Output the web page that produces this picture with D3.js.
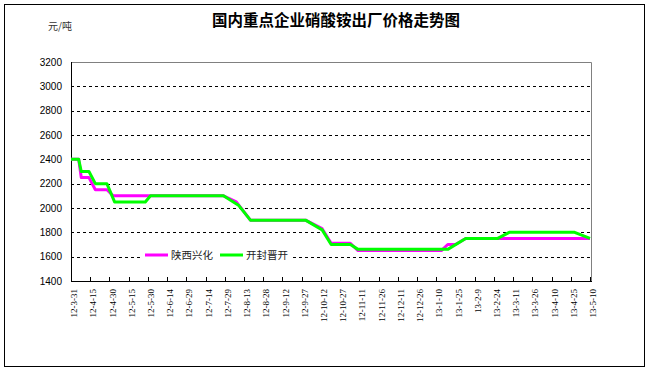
<!DOCTYPE html>
<html><head><meta charset="utf-8">
<script src="https://cdn.jsdelivr.net/npm/d3@7"></script>
<style>html,body{margin:0;padding:0;background:#fff;}svg{display:block;}</style>
</head><body>
<script>
const title = "国内重点企业硝酸铵出厂价格走势图";
const unitLabel = "元/吨";
const tickLabels = ["12-3-31","12-4-15","12-4-30","12-5-15","12-5-30","12-6-14","12-6-29","12-7-14","12-7-29","12-8-13","12-8-28","12-9-12","12-9-27","12-10-12","12-10-27","12-11-11","12-11-26","12-12-11","12-12-26","13-1-10","13-1-25","13-2-9","13-2-24","13-3-11","13-3-26","13-4-10","13-4-25","13-5-10"];
const yTicks = [1400,1600,1800,2000,2200,2400,2600,2800,3000,3200];
const seriesNames = ["陕西兴化","开封晋开"];
// breakpoints (date, price)
const shaanxiDates = ["2012-03-31","2012-04-06","2012-04-08","2012-04-14","2012-04-19","2012-04-28","2012-05-03","2012-07-28","2012-08-07","2012-08-18","2012-09-30","2012-10-13","2012-10-20","2012-11-04","2012-11-10","2013-01-14","2013-01-19","2013-01-25","2013-02-02","2013-05-10"];
const shaanxiValues = [2400,2400,2250,2250,2150,2150,2100,2100,2050,1900,1900,1830,1710,1710,1650,1650,1700,1700,1750,1750];
const kaifengDates = ["2012-03-31","2012-04-06","2012-04-08","2012-04-14","2012-04-19","2012-04-28","2012-05-04","2012-05-28","2012-06-01","2012-07-28","2012-08-09","2012-08-18","2012-09-30","2012-10-13","2012-10-20","2012-11-04","2012-11-10","2013-01-19","2013-02-02","2013-02-27","2013-03-08","2013-04-28","2013-05-10"];
const kaifengValues = [2400,2400,2300,2300,2200,2200,2050,2050,2100,2100,2020,1900,1900,1820,1700,1700,1660,1660,1750,1750,1800,1800,1750];
const colors = ["#ff00ff","#00ff00"];

const W = 650, H = 372;
const svg = d3.select("body").append("svg").attr("width", W).attr("height", H);
svg.append("rect").attr("x",4.5).attr("y",4.5).attr("width",640).attr("height",362)
  .attr("fill","#fff").attr("stroke","#000").attr("stroke-width",1);

const parseTick = d3.utcParse("%y-%m-%d");
const parseDate = d3.utcParse("%Y-%m-%d");
const tickDates = tickLabels.map(parseTick);
const pLeft = 71, pRight = 590, pTop = 62, pBottom = 281;
const x = d3.scaleUtc().domain([tickDates[0], tickDates[tickDates.length-1]]).range([pLeft, pRight]);
const y = d3.scaleLinear().domain([1400,3200]).range([pBottom, pTop]);

// gridlines
svg.append("g").selectAll("line").data(yTicks.filter(v => v > 1400 && v < 3200)).join("line")
  .attr("x1", pLeft).attr("x2", pRight+1).attr("y1", d => Math.round(y(d))+0.5).attr("y2", d => Math.round(y(d))+0.5)
  .attr("stroke","#000").attr("stroke-width",1).attr("stroke-dasharray","3,3");
// plot border top/right
svg.append("path").attr("d", `M${pLeft},${pTop+0.5}H${pRight+1.5}V${pBottom}`)
  .attr("fill","none").attr("stroke","#808080").attr("stroke-width",1);

// y labels
svg.append("g").selectAll("text").data(yTicks).join("text")
  .attr("x", 62).attr("y", d => y(d)).attr("dy","0.35em").attr("text-anchor","end")
  .attr("font-family","Liberation Sans, Arial, sans-serif").attr("font-size", 10).attr("fill","#000")
  .text(d => d);

// axes
svg.append("line").attr("x1", pLeft+0.5).attr("x2", pLeft+0.5).attr("y1", pTop).attr("y2", pBottom+1).attr("stroke","#000");
svg.append("line").attr("x1", pLeft).attr("x2", pRight+2).attr("y1", pBottom+0.5).attr("y2", pBottom+0.5).attr("stroke","#000");
svg.append("g").selectAll("line").data(tickDates).join("line")
  .attr("x1", d => Math.round(x(d))+0.5).attr("x2", d => Math.round(x(d))+0.5)
  .attr("y1", pBottom-4).attr("y2", pBottom).attr("stroke","#000");
svg.append("g").selectAll("text").data(tickLabels).join("text")
  .attr("transform", (d,i) => `translate(${x(tickDates[i])+3},289) rotate(-90)`)
  .attr("dy","0.35em").attr("text-anchor","end")
  .attr("font-family","Liberation Serif, Times New Roman, serif").attr("font-size", 9).attr("fill","#000")
  .text(d => d);

// lines
const line = d3.line().x(d => x(d[0])).y(d => y(d[1]));
const series = [
  shaanxiDates.map((d,i) => [parseDate(d), shaanxiValues[i]]),
  kaifengDates.map((d,i) => [parseDate(d), kaifengValues[i]])
];
series.forEach((s,i) => {
  svg.append("path").datum(s).attr("d", line).attr("fill","none")
    .attr("stroke", colors[i]).attr("stroke-width",3).attr("stroke-linejoin","round");
});

// legend
const lg = svg.append("g");
lg.append("rect").attr("x",143).attr("y",248).attr("width",148).attr("height",15).attr("fill","#fff");
const legendX = [145, 220];
seriesNames.forEach((n,i) => {
  lg.append("line").attr("x1", legendX[i]).attr("x2", legendX[i]+23).attr("y1",255).attr("y2",255)
    .attr("stroke", colors[i]).attr("stroke-width",3);
  lg.append("text").attr("x", legendX[i]+26).attr("y",255.5).attr("dy","0.35em")
    .attr("font-family","Noto Sans CJK SC, sans-serif").attr("font-size",10.5).attr("fill","#222").text(n);
});

// title and unit
svg.append("text").attr("x",336).attr("y",21).attr("dy","0.35em").attr("text-anchor","middle")
  .attr("font-family","Noto Sans CJK SC, sans-serif").attr("font-weight","bold").attr("font-size",15.5).attr("fill","#000")
  .text(title);
svg.append("text").attr("x",48).attr("y",26).attr("dy","0.35em")
  .attr("font-family","Noto Sans CJK SC, sans-serif").attr("font-size",10).attr("fill","#333")
  .text(unitLabel);
</script>
</body></html>
